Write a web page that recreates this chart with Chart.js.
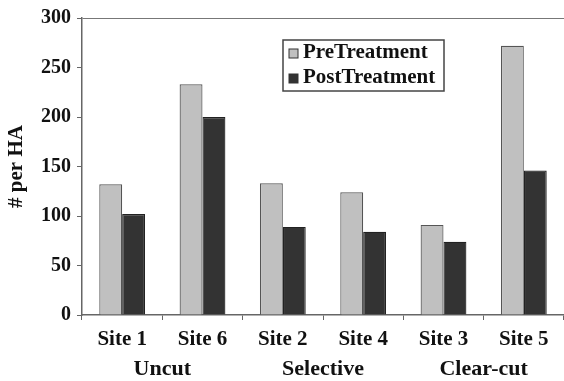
<!DOCTYPE html>
<html lang="en">
<head>
  <meta charset="UTF-8">
  <title># per HA by site</title>
  <script src="https://cdn.jsdelivr.net/npm/chart.js"></script>
  <style>
    html, body { margin: 0; padding: 0; background: white; }
    #wrap { width: 564px; height: 381px; }
  </style>
</head>
<body>
<div id="wrap"><canvas id="grafica"></canvas></div>
<script>
const sites = ["Site 1", "Site 6", "Site 2", "Site 4", "Site 3", "Site 5"];
const groups = ["Uncut", "Selective", "Clear-cut"];
const preTreatment = [132, 233, 133, 124, 91, 272];
const postTreatment = [102, 200, 89, 84, 74, 146];
const yTicks = [0, 50, 100, 150, 200, 250, 300];

const serif = "'Liberation Serif', 'Times New Roman', serif";

// legend drawn inside the plot, boxed
const boxLegend = {
  id: "boxLegend",
  afterDraw(chart) {
    const ctx = chart.ctx;
    const x = 283, y = 40, w = 161, h = 51;
    ctx.save();
    ctx.fillStyle = "white";
    ctx.fillRect(x, y, w, h);
    ctx.strokeStyle = "#444";
    ctx.lineWidth = 1.5;
    ctx.strokeRect(x, y, w, h);
    ctx.font = "bold 21px " + serif;
    ctx.textBaseline = "middle";
    chart.data.datasets.forEach((ds, i) => {
      const cy = y + 13 + i * 25;
      ctx.fillStyle = ds.backgroundColor;
      ctx.fillRect(x + 6, cy - 4, 9, 9);
      ctx.strokeStyle = "#333";
      ctx.lineWidth = 1;
      ctx.strokeRect(x + 6, cy - 4, 9, 9);
      ctx.fillStyle = "#111";
      ctx.fillText(ds.label, x + 20, cy);
    });
    ctx.restore();
  }
};

new Chart(document.getElementById("grafica"), {
  type: "bar",
  data: {
    labels: sites,
    datasets: [
      { label: "PreTreatment", data: preTreatment, backgroundColor: "#c0c0c0", borderColor: "#555", borderWidth: 1.2 },
      { label: "PostTreatment", data: postTreatment, backgroundColor: "#333333", borderColor: "#222", borderWidth: 1.2 }
    ]
  },
  options: {
    responsive: true,
    maintainAspectRatio: false,
    animation: false,
    layout: { padding: { top: 16, right: 0, left: 4, bottom: 0 } },
    datasets: { bar: { categoryPercentage: 0.57, barPercentage: 1 } },
    plugins: { legend: { display: false }, tooltip: { enabled: false } },
    scales: {
      y: {
        min: 0, max: 300,
        afterBuildTicks: s => { s.ticks = yTicks.map(v => ({ value: v })); },
        afterFit: s => { s.width = 78; },
        border: { display: true, color: "#666", width: 1.5 },
        grid: {
          drawOnChartArea: true,
          tickLength: 5,
          color: c => (c.tick && c.tick.value === 300) ? "#777" : "transparent",
          tickColor: "#666"
        },
        ticks: { color: "#111", padding: 6, font: { family: serif, size: 20, weight: "bold" } },
        title: { display: true, text: "# per HA", color: "#111", padding: { top: 0, bottom: 4 }, font: { family: serif, size: 21, weight: "bold" } }
      },
      x: {
        border: { display: true, color: "#666", width: 1.5 },
        grid: { drawOnChartArea: false, tickLength: 5, color: "#666" },
        ticks: { color: "#111", padding: 7, font: { family: serif, size: 21, weight: "bold" } },
        afterFit: s => { s.height = 38; }
      },
      group: {
        type: "category",
        labels: groups,
        position: "bottom",
        border: { display: false },
        grid: { display: false, drawTicks: false },
        ticks: { color: "#111", padding: 3, font: { family: serif, size: 22, weight: "bold" } },
        afterFit: s => { s.height = 28; }
      }
    }
  },
  plugins: [boxLegend]
});
</script>
</body>
</html>
